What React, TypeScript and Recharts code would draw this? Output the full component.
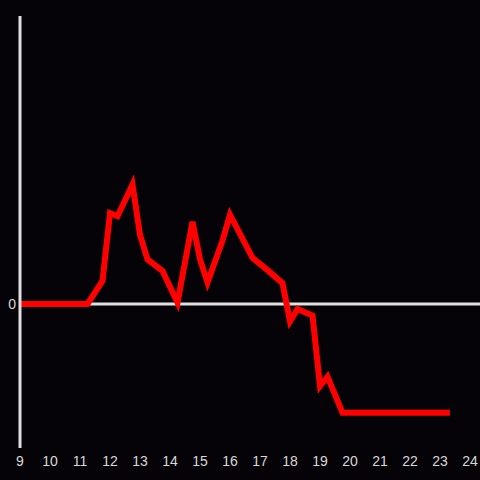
import { LineChart, Line, XAxis, YAxis, ReferenceLine } from "recharts";

// hours of day (decimal) and readings
const hours = [
	9, 11.25, 11.75, 12, 12.25, 12.75, 13, 13.25, 13.75, 14.25, 14.75, 15, 15.25,
	15.75, 16, 16.75, 17.25, 17.75, 18, 18.25, 18.75, 19, 19.25, 19.75, 23.33,
];
const values = [
	0, 0, 16, 63, 61, 83, 48, 31, 23, 1, 57, 31, 15, 44, 62, 32, 23.5, 14.5, -12,
	-3.5, -8, -57, -50.5, -75.5, -75.5,
];
const xTicks = [9, 10, 11, 12, 13, 14, 15, 16, 17, 18, 19, 20, 21, 22, 23, 24];
const yTicks = [0];

const data = hours.map((h, i) => ({ hour: h, value: values[i] }));

const axisColor = "#e0e0e0";
const tickStyle = { fill: "#d8d8d8", fontSize: 14, fontFamily: "Liberation Sans, Arial, sans-serif" };

export default function App() {
	return (
		<div
			style={{
				position: "fixed",
				top: 0,
				left: 0,
				width: 480,
				height: 480,
				background: "#050307",
			}}
		>
			<LineChart
				width={480}
				height={480}
				data={data}
				margin={{ top: 16, right: 0, bottom: 0, left: 0 }}
			>
				<XAxis
					dataKey="hour"
					type="number"
					domain={[9, 24.333]}
					ticks={xTicks}
					axisLine={false}
					tickLine={false}
					tick={tickStyle}
					height={32}
					interval={0}
					allowDataOverflow
				/>
				<YAxis
					type="number"
					domain={[-100, 200]}
					ticks={yTicks}
					width={20}
					axisLine={{ stroke: axisColor, strokeWidth: 3 }}
					tickLine={false}
					tickSize={2}
					tickMargin={2}
					tick={tickStyle}
				/>
				<ReferenceLine y={0} stroke={axisColor} strokeWidth={3} />
				<Line
					type="linear"
					dataKey="value"
					stroke="#ff0000"
					strokeWidth={6}
					dot={false}
					isAnimationActive={false}
				/>
			</LineChart>
		</div>
	);
}
